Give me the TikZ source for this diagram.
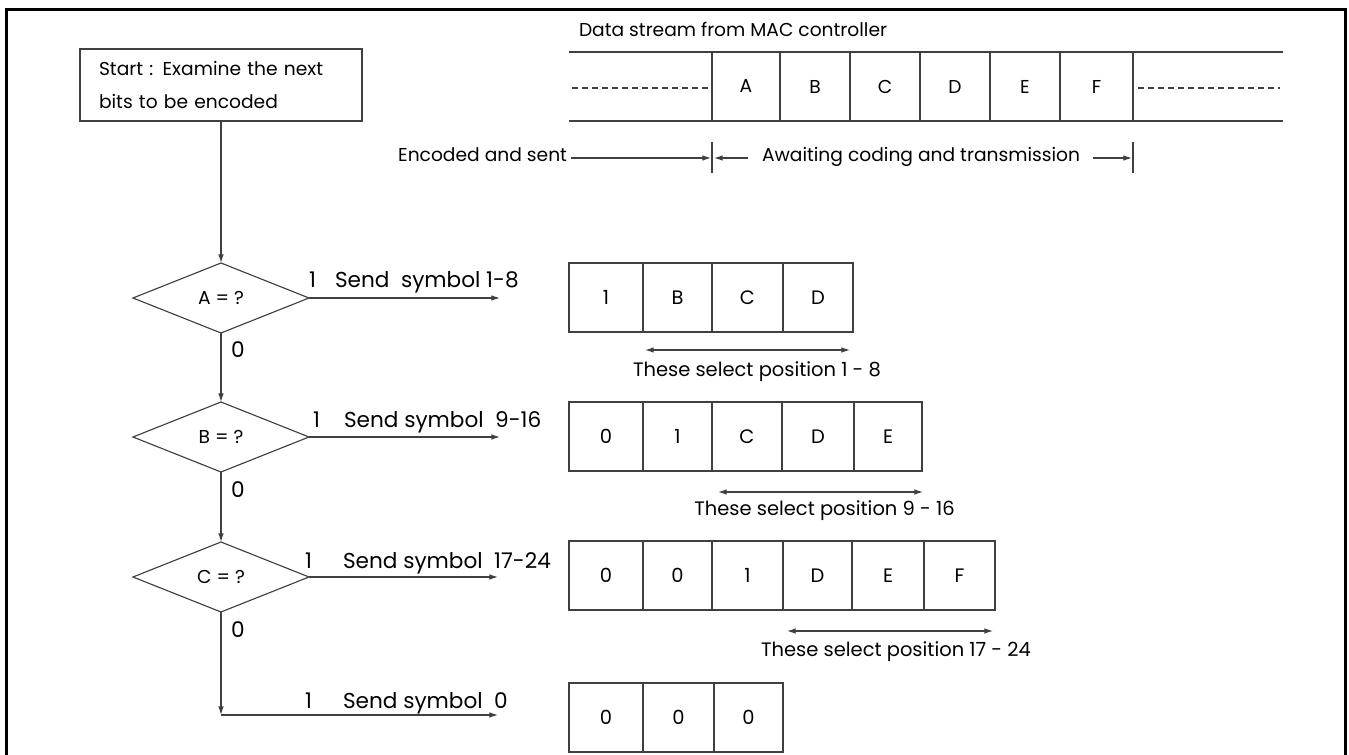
\documentclass[tikz,border=0pt]{standalone}
\usepackage{fontspec}
\setmainfont{Poppins}
\usetikzlibrary{arrows.meta,shapes.geometric,calc}
\newcommand{\fsS}{\fontsize{14pt}{16pt}\selectfont}
\newcommand{\fsM}{\fontsize{14.6pt}{18pt}\selectfont}
\newcommand{\fsL}{\fontsize{16.2pt}{20pt}\selectfont}
\definecolor{lc}{HTML}{404040}
\begin{document}
\begin{tikzpicture}[x=0.75pt,y=-0.75pt,
  ln/.style={draw=lc,line width=0.85pt},
  arr/.style={ln,-{Latex[length=6.5pt,width=4.2pt]}},
  darr/.style={ln,{Latex[length=6.5pt,width=4.2pt]}-{Latex[length=6.5pt,width=4.2pt]}},
  cell/.style={draw=lc,line width=0.85pt,minimum width=#1*0.75pt,minimum height=51.75pt,inner sep=0pt,outer sep=0pt,font=\fsM},
  scell/.style={draw=lc,line width=0.85pt,minimum width=#1*0.75pt,minimum height=51.75pt,inner sep=0pt,outer sep=0pt,font=\fsS},
  dec/.style={diamond,draw=lc,line width=0.85pt,minimum width=132pt,minimum height=52.5pt,inner sep=0pt,outer sep=0pt,font=\fsS},
  lbl/.style={inner sep=0pt,outer sep=0pt},
  dsh/.style={draw=lc,line width=0.8pt,dash pattern=on 4.5pt off 3pt},
]
\useasboundingbox (0,0) rectangle (1349,755);
\fill[white] (0,0) rectangle (1349,755);
% frame
\draw[line width=2.25pt] (6.5,756) -- (6.5,10) -- (1345,10) -- (1345,756);

% start box
\node[draw=lc,line width=0.85pt,text width=183pt,inner xsep=14.25pt,minimum height=54pt,align=left,
      font=\fontsize{14pt}{24.75pt}\selectfont] (start) at (221,85)
  {Start : Examine the next\\bits to be encoded};

% diamonds
\node[dec] (dA) at (221,298) {A = ?};
\node[dec] (dB) at (221,437) {B = ?};
\node[dec] (dC) at (221,577) {C = ?};
\coordinate (cor) at (221,715);

\draw[arr] (start.south) -- (dA.north);
\draw[arr] (dA.south) -- (dB.north);
\draw[arr] (dB.south) -- (dC.north);
\draw[arr] (dC.south) -- (cor);

\coordinate (eA) at (500,298);
\coordinate (eB) at (500,437);
\coordinate (eC) at (498,577);
\coordinate (e0) at (498,715);
\draw[arr] (dA.east) -- (eA);
\draw[arr] (dB.east) -- (eB);
\draw[arr] (dC.east) -- (eC);
\draw[arr] (cor) -- (e0);

% labels on branches
\node[lbl,font=\fsL,anchor=base west] (oneA) at (309,288) {1};
\node[lbl,font=\fsL,anchor=base west] (sA) at (335,288) {Send\ \ symbol 1-8};
\node[lbl,font=\fsL,anchor=base west] (oneB) at (313,427) {1};
\node[lbl,font=\fsL,anchor=base west] (sB) at (344,427) {Send symbol\ \ 9-16};
\node[lbl,font=\fsL,anchor=base west] (oneC) at (305,568) {1};
\node[lbl,font=\fsL,anchor=base west] (sC) at (343,568) {Send symbol\ \ 17-24};
\node[lbl,font=\fsL,anchor=base west] (one0) at (305,708) {1};
\node[lbl,font=\fsL,anchor=base west] (s0) at (343,708) {Send symbol\ \ 0};

\node[lbl,font=\fsL,anchor=west] (zA) at (231,350) {0};
\node[lbl,font=\fsL,anchor=west] (zB) at (231,490) {0};
\node[lbl,font=\fsL,anchor=west] (zC) at (231,630) {0};

% row 1
\node[cell=74] (r1a) at (606,297.5) {1};
\node[cell=69] (r1b) at (677.5,297.5) {B};
\node[cell=71] (r1c) at (747.5,297.5) {C};
\node[cell=70] (r1d) at (818,297.5) {D};
% row 2
\node[cell=74] (r2a) at (606,436.5) {0};
\node[cell=69] (r2b) at (677.5,436.5) {1};
\node[cell=70] (r2c) at (747,436.5) {C};
\node[cell=72] (r2d) at (818,436.5) {D};
\node[cell=68] (r2e) at (888,436.5) {E};
% row 3
\node[cell=74] (r3a) at (606,575.5) {0};
\node[cell=69] (r3b) at (677.5,575.5) {0};
\node[cell=71] (r3c) at (747.5,575.5) {1};
\node[cell=69] (r3d) at (817.5,575.5) {D};
\node[cell=72] (r3e) at (888,575.5) {E};
\node[cell=71] (r3f) at (959.5,575.5) {F};
% row 4
\node[cell=74] (r4a) at (606,717.5) {0};
\node[cell=71] (r4b) at (678.5,717.5) {0};
\node[cell=69] (r4c) at (748.5,717.5) {0};

% selection arrows
\coordinate (p1l) at (645,350); \coordinate (p1r) at (850,350);
\coordinate (p2l) at (718,492); \coordinate (p2r) at (923,492);
\coordinate (p3l) at (787,631); \coordinate (p3r) at (993,631);
\draw[darr] (p1l) -- (p1r);
\draw[darr] (p2l) -- (p2r);
\draw[darr] (p3l) -- (p3r);
\node[lbl,font=\fsM,anchor=base] (t1) at (757,377) {These select position 1 - 8};
\node[lbl,font=\fsM,anchor=base] (t2) at (824.5,515) {These select position 9 - 16};
\node[lbl,font=\fsM,anchor=base] (t3) at (896,656) {These select position 17 - 24};

% data stream
\node[lbl,font=\fsS,anchor=base west] (title) at (579,37) {Data stream from MAC controller};
\draw[ln] (569,52) -- (1283,52);
\draw[ln] (569,121) -- (1283,121);
\node[scell=68] (sa) at (746,86.5) {A};
\node[scell=70] (sb) at (815,86.5) {B};
\node[scell=70] (sc) at (885,86.5) {C};
\node[scell=70] (sd) at (955,86.5) {D};
\node[scell=70] (se) at (1025,86.5) {E};
\node[scell=73] (sf) at (1096.5,86.5) {F};
\draw[dsh] (572,88) -- (708,88);
\draw[dsh] (1138,88) -- (1280,88);

% encoded / awaiting
\node[lbl,font=\fsS,anchor=base east] (enc) at (567,162) {Encoded and sent};
\node[lbl,font=\fsS,anchor=base west] (aw) at (762,162) {Awaiting coding and transmission};
\draw[ln] (712,142) -- (712,173);
\draw[ln] (1133,142) -- (1133,173);
\coordinate (encR) at (571,158); \coordinate (barL) at (711,158);
\coordinate (awL) at (748,158); \coordinate (barLi) at (714,158);
\coordinate (awR) at (1093,158); \coordinate (barR) at (1132,158);
\draw[arr] (encR) -- (barL);
\draw[arr] (awL) -- (barLi);
\draw[arr] (awR) -- (barR);
\end{tikzpicture}
\end{document}
